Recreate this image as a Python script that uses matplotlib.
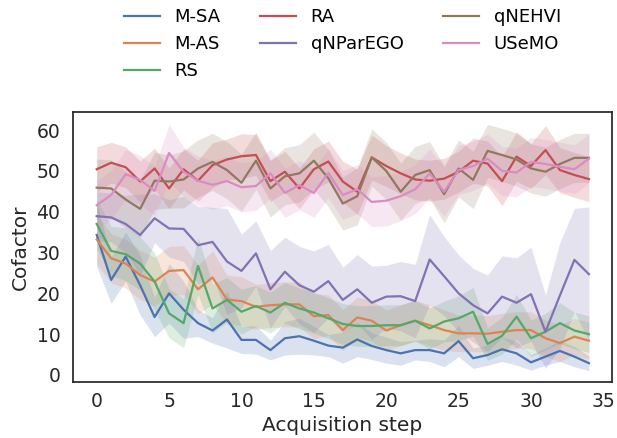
import matplotlib
matplotlib.use("Agg")
import matplotlib.pyplot as plt
import numpy as np

# acquisition steps 0..34
steps = list(range(35))

# mean cofactor per method
m_sa = [34.3, 23.3, 29, 22, 14.2, 20, 16, 12.7, 10.9, 13.6, 8.6, 8.6, 6.1, 9, 9.5, 8.4, 7.2,
        6.7, 8.7, 7.1, 6.1, 5.3, 6.1, 6.1, 5.3, 8.3, 4.1, 4.9, 6.3, 5.3, 3.1, 4.5, 5.9, 4.5, 2.9]
m_as = [33.2, 28.6, 27.3, 24.5, 22.9, 25.5, 25.7, 21, 23.9, 18.5, 18.1, 16.7, 17.1, 17.3, 17.3,
        14.4, 14.7, 11, 14.1, 13.3, 10.9, 12.2, 13.3, 12.2, 11, 10.2, 10.2, 10.1, 10.6, 11, 11,
        9, 7.8, 9.4, 8.4]
rs = [37, 30.4, 29.6, 27.3, 22.9, 15.1, 12.7, 26.7, 16.3, 18.4, 15.5, 16.9, 15.3, 17.7, 16.3,
      15.3, 13.9, 12.5, 12, 12, 12.2, 12.2, 13.3, 11.4, 13.1, 13.9, 15.5, 7.6, 9.6, 14.3, 9,
      10.6, 12.7, 10.9, 10]
ra = [50.4, 52, 50.9, 47.4, 50.6, 45.7, 50.4, 47.6, 51.4, 52.8, 53.6, 53.9, 47.5, 49.8, 45.7,
      50.4, 52.3, 47.4, 44.9, 53.3, 51.2, 49.4, 47.9, 47.6, 48.1, 49.8, 52.5, 51.8, 47.5, 53.5,
      51.2, 55.1, 50.2, 49, 48]
qnparego = [38.9, 38.6, 37, 34.3, 38.4, 35.9, 35.8, 31.8, 32.6, 27.8, 25.5, 29.8, 21, 25.3, 22,
            20.4, 23, 18.4, 21, 17.7, 19.2, 19.3, 18.1, 28.3, 24.2, 20, 17.1, 15.1, 19.2, 17.7,
            19.8, 10.6, 19.5, 28.2, 24.7]
qnehvi = [45.9, 45.7, 43, 40.7, 47.6, 47.4, 47.9, 50.6, 52.2, 50.2, 47.1, 52.5, 45.7, 48.7, 49.4,
          52.5, 48.2, 42, 43.8, 53.3, 50, 44.9, 49, 50.2, 44.3, 50.6, 47.8, 54.9, 53.9, 52.8,
          50.6, 49.8, 51.7, 53.2, 53.2]
usemo = [41.6, 44.1, 49.2, 47.8, 45.1, 54.4, 49.8, 47.6, 46.6, 47.5, 46, 46.3, 49.4, 44.6, 46.5,
         44.6, 49.5, 44.1, 45.5, 42.4, 42.7, 43.8, 45.5, 49.4, 44.9, 50.2, 51.2, 53, 50, 49.6,
         52.2, 51.7, 51, 50.4, 53]

# half-width of the shaded band
m_sa_err = [7.8, 5.7, 6, 7.3, 4.8, 7.3, 7, 3.3, 3.1, 7, 3.3, 3.5, 2.4, 4.1, 4.4, 3.5, 2.7, 3.8,
            4.2, 3.3, 3.2, 2.9, 2.4, 2.8, 3.3, 3.8, 2.5, 2.5, 3, 2.9, 1.9, 2.1, 2.6, 2.5, 1.8]
m_as_err = [6, 6, 6, 6, 6, 6, 6, 6, 6.5, 6, 6, 5.5, 5.5, 5.5, 5.5, 5.5, 5, 5, 5, 5, 5, 5, 5, 5,
            5, 4.5, 4.5, 4.5, 4.5, 4.5, 4.5, 4.5, 4.5, 4.5, 4.5]
rs_err = [6, 6, 6.5, 6.5, 7, 6, 6, 7, 6, 5.5, 5.5, 5, 5, 5, 5, 5, 5, 5, 5, 5, 5, 5, 5, 5, 5,
          5.5, 6, 4, 4.5, 5.5, 4.5, 4.5, 5, 4.5, 4.5]
ra_err = [5.5, 5, 5, 5, 5, 5, 5, 5, 5.5, 5, 5.5, 5, 5, 5, 5, 5, 5, 5, 5.5, 5.5, 5, 5, 5, 5, 5,
          5, 5.5, 5.5, 6, 6, 5.5, 6, 5.5, 5.5, 5.5]
qnparego_err = [6, 6, 7, 10, 6, 7, 8, 9.5, 8.5, 13, 9, 8, 9.5, 8.5, 9.5, 10, 9, 8, 8.5, 9, 7.7,
                8.5, 9, 11, 9.7, 9.4, 9, 9.4, 10, 11, 11.5, 9, 13, 12.6, 16.5]
qnehvi_err = [7, 7, 7, 7, 7, 6.5, 7, 7, 7, 7, 7, 7, 7, 7, 7, 7, 7, 6.5, 7, 7, 7, 7, 7, 7, 7, 7,
              7, 6.5, 6.5, 6.5, 6, 6, 6, 6, 6]
usemo_err = [6, 6, 6, 6, 6, 7, 6, 6, 6, 6, 6, 6, 6, 6, 6, 6, 6, 6, 6, 6, 6.2, 6, 6, 6, 6, 6, 6,
             6, 6, 6, 6, 6, 6, 6, 6]

methods = ["M-SA", "M-AS", "RS", "RA", "qNParEGO", "qNEHVI", "USeMO"]
colors = ["#4C72B0", "#DD8452", "#55A868", "#C44E52", "#8172B3", "#937860", "#DA8BC3"]
means = [m_sa, m_as, rs, ra, qnparego, qnehvi, usemo]
errs = [m_sa_err, m_as_err, rs_err, ra_err, qnparego_err, qnehvi_err, usemo_err]

plt.rcParams["font.family"] = ["DejaVu Sans"]

fig = plt.figure(figsize=(6.17, 4.38), dpi=100)
ax = fig.add_axes([0.118, 0.128, 0.874, 0.616])

x = np.array(steps)
for name, c, m, e in zip(methods, colors, means, errs):
    m = np.array(m)
    e = np.array(e)
    ax.fill_between(x, m - e, m + e, color=c, alpha=0.2, linewidth=0)
    ax.plot(x, m, color=c, lw=1.6, label=name)

ax.set_xlim(-1.65, 35.6)
ax.set_ylim(-1.7, 64.4)
ax.set_xticks(range(0, 36, 5))
ax.set_yticks(range(0, 61, 10))
ax.tick_params(axis="both", length=0, labelsize=13.5, colors="#262626")
ax.tick_params(axis="x", pad=7)
ax.tick_params(axis="y", pad=9)
ax.set_xlabel("Acquisition step", fontsize=14.5, color="#262626", labelpad=4)
ax.set_ylabel("Cofactor", fontsize=14.5, color="#262626", labelpad=5)
for s in ax.spines.values():
    s.set_color("#262626")
    s.set_linewidth(1.25)

ax.legend(loc="upper center", bbox_to_anchor=(0.5, 1.445), ncol=3, frameon=False,
          fontsize=13, handlelength=2, columnspacing=2.2, labelspacing=0.5)

fig.savefig("out.png", dpi=100)
